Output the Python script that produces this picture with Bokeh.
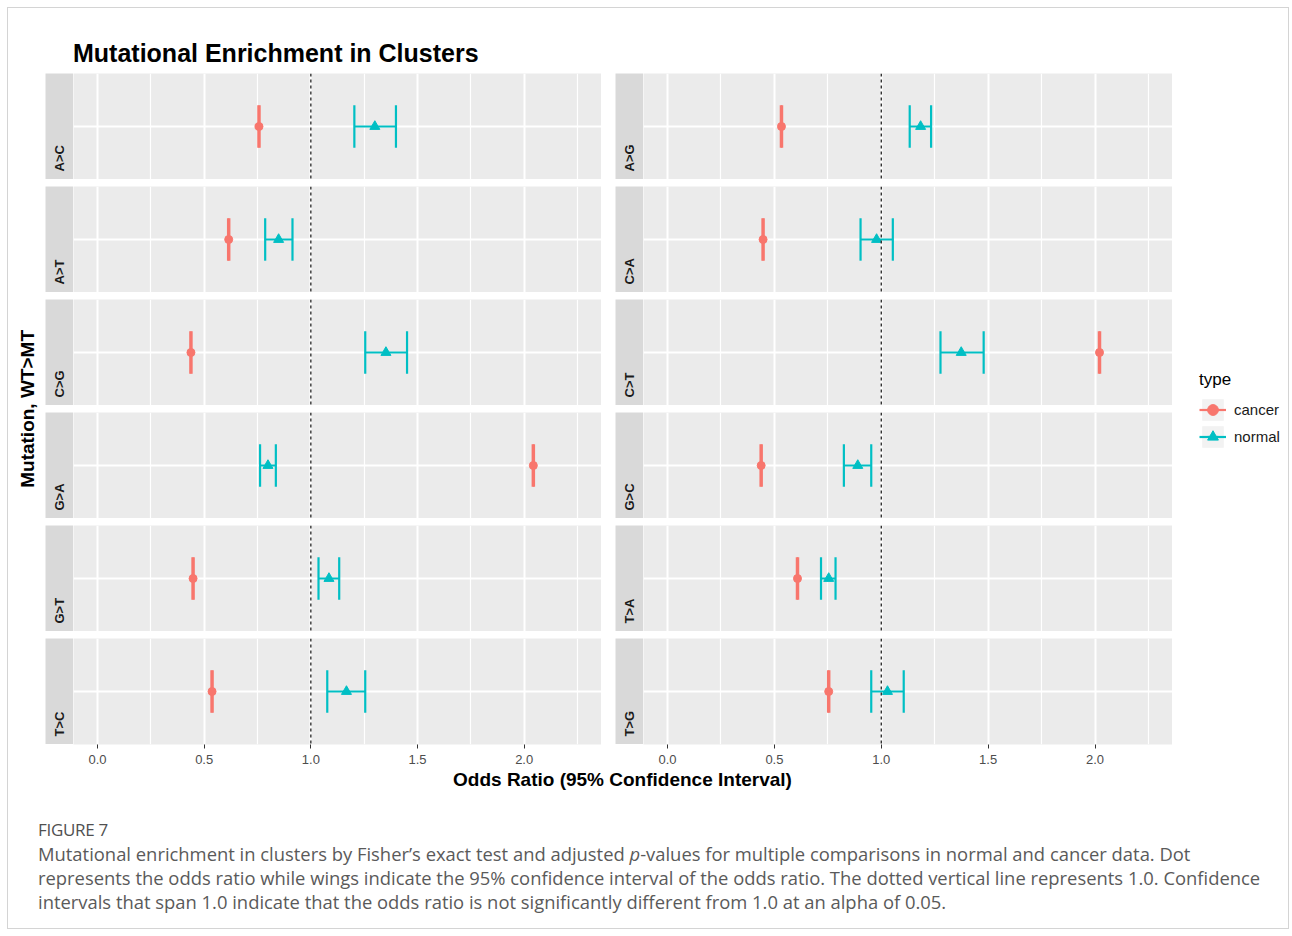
import math
from bokeh.plotting import figure
from bokeh.models import (ColumnDataSource, FixedTicker, PrintfTickFormatter, Range1d,
                          Span, Div, Spacer, Legend, LegendItem, Grid, LinearAxis)
from bokeh.layouts import row, column
from bokeh.embed import file_html
from bokeh.resources import INLINE
from bokeh.core.properties import value

# ---------------- data ----------------
mutations = ["A>C", "A>G", "A>T", "C>A", "C>G", "C>T",
             "G>A", "G>C", "G>T", "T>A", "T>C", "T>G"]
cancer_or = [0.757, 0.533, 0.615, 0.447, 0.438, 2.021, 2.043, 0.438, 0.448, 0.608, 0.537, 0.754]
cancer_lo = [0.754, 0.530, 0.612, 0.444, 0.435, 2.018, 2.040, 0.435, 0.445, 0.605, 0.534, 0.751]
cancer_hi = [0.760, 0.536, 0.618, 0.450, 0.441, 2.024, 2.046, 0.441, 0.451, 0.611, 0.540, 0.757]
normal_or = [1.300, 1.184, 0.849, 0.978, 1.352, 1.374, 0.799, 0.890, 1.085, 0.754, 1.167, 1.029]
normal_lo = [1.204, 1.133, 0.786, 0.903, 1.255, 1.277, 0.762, 0.825, 1.036, 0.718, 1.077, 0.953]
normal_hi = [1.399, 1.233, 0.914, 1.054, 1.451, 1.479, 0.836, 0.953, 1.133, 0.786, 1.255, 1.105]
type_labels = ["cancer", "normal"]
x_ticks = [0.0, 0.5, 1.0, 1.5, 2.0]
x_minor = [0.25, 0.75, 1.25, 1.75, 2.25]
ref_or = 1.0

title_text = "Mutational Enrichment in Clusters"
x_title = "Odds Ratio (95% Confidence Interval)"
y_title = "Mutation, WT&gt;MT"
legend_title = "type"
fig_label = "FIGURE 7"
caption_lines = [
    "Mutational enrichment in clusters by Fisher\u2019s exact test and adjusted <i>p</i>-values for multiple comparisons in normal and cancer data. Dot",
    "represents the odds ratio while wings indicate the 95% confidence interval of the odds ratio. The dotted vertical line represents 1.0. Confidence",
    "intervals that span 1.0 indicate that the odds ratio is not significantly different from 1.0 at an alpha of 0.05.",
]

# ---------------- style ----------------
CANCER = "#F8766D"
NORMAL = "#00BFC4"
FONT = "Liberation Sans"
PANEL_BG = "#EBEBEB"
STRIP_BG = "#D9D9D9"
X0, X1 = -0.1125, 2.3625
PH = 106          # panel frame height
GAP = 7
COL_H = 6 * PH + 5 * GAP


def make_panel(k, bottom, fw):
    p = figure(frame_width=fw, frame_height=PH, x_range=Range1d(X0, X1), y_range=Range1d(0, 1),
               x_axis_type=None, y_axis_type=None, output_backend="svg", toolbar_location=None,
               min_border=0, background_fill_color=PANEL_BG, border_fill_color="white",
               outline_line_color=None)
    p.add_layout(Grid(dimension=0, ticker=FixedTicker(ticks=x_ticks, minor_ticks=x_minor),
                      grid_line_color="white", grid_line_width=2,
                      minor_grid_line_color="white", minor_grid_line_width=1.2))
    p.add_layout(Grid(dimension=1, ticker=FixedTicker(ticks=[0.5]),
                      grid_line_color="white", grid_line_width=2))
    p.add_layout(Span(location=ref_or, dimension="height", line_color="#333333",
                      line_width=1.4, line_dash="3 3"))
    for orr, lo, hi, color, marker, size in [
        (normal_or, normal_lo, normal_hi, NORMAL, "triangle", 10),
        (cancer_or, cancer_lo, cancer_hi, CANCER, "circle", 8),
    ]:
        src = ColumnDataSource(dict(x=[orr[k]], lo=[lo[k]], hi=[hi[k]],
                                    yc=[0.5], yb=[0.3], yt=[0.7]))
        p.segment(x0="lo", y0="yc", x1="hi", y1="yc", source=src, line_color=color, line_width=2.2)
        p.segment(x0="lo", y0="yb", x1="lo", y1="yt", source=src, line_color=color, line_width=2.2)
        p.segment(x0="hi", y0="yb", x1="hi", y1="yt", source=src, line_color=color, line_width=2.2)
        p.scatter(x="x", y="yc", source=src, marker=marker, size=size,
                  fill_color=color, line_color=color)
    if bottom:
        ax = LinearAxis(ticker=FixedTicker(ticks=x_ticks), formatter=PrintfTickFormatter(format="%.1f"),
                        axis_line_color=None, major_tick_line_color="#333333", major_tick_line_width=1,
                        major_tick_out=4, major_tick_in=0, minor_tick_out=0, minor_tick_in=0,
                        major_label_text_font=FONT, major_label_text_font_size="13px",
                        major_label_text_color="#4D4D4D", major_label_standoff=6)
        p.add_layout(ax, "below")
    return p


def make_strip(label):
    s = figure(frame_width=28, frame_height=PH, x_range=Range1d(0, 1), y_range=Range1d(0, PH),
               x_axis_type=None, y_axis_type=None, output_backend="svg", toolbar_location=None,
               min_border=0, background_fill_color=STRIP_BG, border_fill_color="white",
               outline_line_color=None)
    s.text(x=[0.5], y=[8], text=[label], angle=math.pi / 2, text_align="left",
           text_baseline="middle", text_font=value(FONT), text_font_size="13px",
           text_font_style="bold", text_color="#1A1A1A")
    return s


left_idx = list(range(0, 12, 2))
right_idx = list(range(1, 12, 2))

left_strips = column([make_strip(mutations[k]) for k in left_idx], spacing=GAP)
left_panels = column([make_panel(k, i == 5, 528) for i, k in enumerate(left_idx)], spacing=GAP)
right_strips = column([make_strip(mutations[k]) for k in right_idx], spacing=GAP)
right_panels = column([make_panel(k, i == 5, 529) for i, k in enumerate(right_idx)], spacing=GAP)

# ---------------- legend ----------------
lg = figure(frame_width=116, frame_height=COL_H, x_range=Range1d(0, 1), y_range=Range1d(0, 1),
            x_axis_type=None, y_axis_type=None, output_backend="svg", toolbar_location=None,
            min_border=0, background_fill_color="white", border_fill_color="white",
            outline_line_color=None)
items = []
for t, color, marker, size in zip(type_labels, [CANCER, NORMAL], ["circle", "triangle"], [8, 10]):
    off = ColumnDataSource(dict(x=[5.0], y=[5.0], x1=[6.0], y1=[6.0]))  # outside the visible range
    rb = lg.quad(left="x", right="x1", bottom="y", top="y1", source=off,
                 fill_color="#F2F2F2", line_color=None)
    rs = lg.segment(x0="x", y0="y", x1="x1", y1="y1", source=off, line_color=color, line_width=2.2)
    rv = lg.scatter(x="x", y="y", source=off, marker="dash", angle=math.pi / 2, size=12,
                    line_color=color, line_width=2.2)
    rp = lg.scatter(x="x", y="y", source=off, marker=marker, size=size,
                    fill_color=color, line_color=color)
    items.append(LegendItem(label=value(t), renderers=[rb, rs, rv, rp], index=0))
legend = Legend(items=items, title=legend_title, location=(27, 294), orientation="vertical",
                glyph_width=27, glyph_height=27, label_standoff=8, spacing=0, padding=0, margin=0,
                border_line_color=None, background_fill_alpha=0,
                label_text_font=FONT, label_text_font_size="15px", label_text_color="#1A1A1A",
                title_text_font=FONT, title_text_font_size="17px", title_text_font_style="normal",
                title_text_color="#000000", title_standoff=6)
lg.add_layout(legend)

# ---------------- texts ----------------
title_div = Div(text=f'<div style="font-family:\'{FONT}\';font-weight:bold;font-size:25px;'
                     f'line-height:25px;padding-left:65px;padding-top:33px;color:#000;white-space:nowrap">'
                     f'{title_text}</div>', width=1280, height=65, margin=0)

ytitle_div = Div(text=f'<div style="height:{COL_H}px;width:37px;display:flex;align-items:center;'
                      f'justify-content:center;padding-left:3px;box-sizing:border-box">'
                      f'<span style="writing-mode:vertical-rl;transform:rotate(180deg);'
                      f'font-family:\'{FONT}\';font-weight:bold;font-size:19px;color:#000;white-space:nowrap">'
                      f'{y_title}</span></div>', width=37, height=COL_H, margin=0)

xtitle_div = Div(text=f'<div style="width:1099px;text-align:center;font-family:\'{FONT}\';font-weight:bold;'
                      f'font-size:19px;line-height:24px;padding-top:2px;color:#000;white-space:nowrap">'
                      f'{x_title}</div>', width=1099, height=26, margin=0)

cap_html = (f'<div style="font-family:\'Open Sans\';color:#5a5a5a;font-size:18.4px;line-height:24px;'
            f'padding-left:30px;padding-top:26px;white-space:nowrap">'
            f'<div style="color:#505050;font-size:17px;letter-spacing:-0.3px">{fig_label}</div>'
            + "".join(f"<div>{ln}</div>" for ln in caption_lines) + '</div>')
caption_div = Div(text=cap_html, width=1280, height=136, margin=0)

middle = row([ytitle_div, left_strips, left_panels, Spacer(width=14, margin=0),
              right_strips, right_panels, lg], spacing=0)
xrow = row([Spacer(width=65, margin=0), xtitle_div], spacing=0)

root = column([title_div, middle, xrow, caption_div], spacing=0, margin=(7, 0, 0, 7),
              styles={"border": "1px solid #d4d4d4"})

open("out.html", "w").write(file_html(root, INLINE))
